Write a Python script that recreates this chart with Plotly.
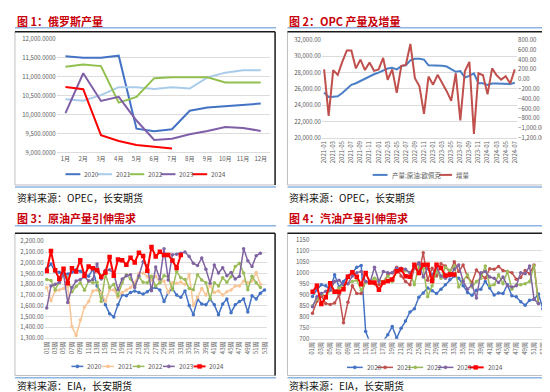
import plotly.graph_objects as go

W, H = 550, 392
def px(x): return x / W
def py(y): return 1 - y / H

# ---------------- data ----------------
# Chart 1: Russia production (kb/d), monthly
months1 = ["1月", "2月", "3月", "4月", "5月", "6月", "7月", "8月", "9月", "10月", "11月", "12月"]
years = ["2020", "2021", "2022", "2023", "2024"]
russia_2020 = [11543, 11509, 11509, 11560, 9630, 9561, 9612, 10104, 10190, 10224, 10259, 10293]
russia_2021 = [10405, 10370, 10517, 10728, 10724, 10681, 10724, 10690, 10983, 11112, 11172, 11172]
russia_2022 = [11267, 11328, 11285, 10319, 10470, 10966, 10991, 10991, 10991, 10853, 10853, 10853]
russia_2023 = [10040, 11095, 10362, 10470, 9845, 9328, 9362, 9483, 9569, 9673, 9647, 9569]
russia_2024 = [10733, 10672, 9457, 9302, 9199, 9155, 9104]

# Chart 2: OPEC production and monthly change
months2 = [f"{y}-{m:02d}" for y in (2021, 2022, 2023, 2024) for m in range(1, 13)][:43]
opec_prod = [25550, 25000, 25050, 25100, 25500, 26000, 26500, 26700, 27000, 27300,
             27500, 27800, 28000, 28300, 28500, 28600, 28400, 28800, 28900, 29500,
             29700, 29700, 29600, 28900, 28900, 28850, 28850, 28750, 28450, 28100,
             28200, 27400, 27600, 27900, 26700, 26700, 26500, 26650, 26650, 26650,
             26650, 26600, 26750]
opec_incr = [200, -750, 186, 88, 354, 588, 588, 220, 400, 186,
             340, 170, 200, 434, -12, 200, -280, 274, 290, 720,
             20, -146, -712, 54, -113, 88, -78, -246, -446, 120,
             -846, 160, 354, -1120, 120, 80, -312, 220, 80, -10,
             60, -90, 200]
opec_names = ["产量:原油:欧佩克", "增量"]

# Chart 3 / 4: weekly
weeks = [f"{i:02d}周" for i in range(1, 54)]
crude_2020 = [1948, 1988, 1921, 1912, 1891, 1897, 1912, 1936, 1921, 1900,
              1876, 1942, 1785, 1724, 1609, 1527, 1497, 1609, 1700, 1694,
              1724, 1739, 1724, 1709, 1730, 1761, 1770, 1748, 1639, 1724,
              1761, 1700, 1679, 1739, 1603, 1518, 1658, 1618, 1609, 1664,
              1609, 1518, 1618, 1664, 1536, 1609, 1639, 1664, 1542, 1694,
              1664, 1718, 1748]
crude_2021 = [1770, 1648, 1739, 1748, 1761, 1785, 1406, 1324, 1467, 1588,
              1639, 1739, 1748, 1724, 1639, 1748, 1748, 1679, 1724, 1748,
              1770, 1815, 1900, 1906, 1870, 1839, 1876, 1815, 1830, 1724,
              1815, 1809, 1821, 1800, 1891, 1603, 1679, 1761, 1700, 1791,
              1724, 1739, 1700, 1730, 1748, 1785, 1785, 1830, 1815, 1830,
              1910, 1800]
crude_2022 = [1845, 1836, 1750, 1815, 1890, 1860, 1730, 1780, 1815, 1745,
              1830, 1815, 1820, 1640, 1895, 1770, 1800, 1695, 1815, 1890,
              1850, 1785, 1870, 1820, 1815, 1875, 1785, 1815, 1880, 1870,
              1750, 1920, 1860, 1845, 1760, 1750, 1890, 1840, 1815, 1665,
              1815, 1785, 1860, 1820, 1870, 1965, 1995, 1905, 1750, 1875,
              1815, 1770]
crude_2023 = [1580, 1785, 1800, 1820, 1900, 1630, 1770, 1830, 1845, 1870,
              1830, 1845, 1990, 1850, 1930, 1935, 1900, 1750, 1850, 1880,
              1890, 1770, 1880, 2010, 1970, 1740, 1960, 1850, 2130, 1840,
              2075, 2080, 2090, 2100, 2060, 1995, 1975, 2045, 1940, 1810,
              1980, 1905, 1955, 1880, 1910, 1850, 1875, 2130, 2020, 1965,
              2065, 2090]
crude_2024 = [1924, 2109, 1930, 1850, 1945, 1810, 1950, 1920, 2025, 1880,
              1965, 1950, 1930, 1870, 1910, 2055, 1880, 2030, 2025, 1982,
              2048, 2003, 2094, 2064, 1927, 2148, 2058, 2103, 2073, 2073,
              2021, 1951, 2073]

gaso_2020 = [892, 922, 945, 940, 925, 990, 935, 960, 985, 1000,
             1025, 1032, 733, 680, 650, 660, 690, 718, 755, 703,
             747, 780, 821, 836, 888, 907, 930, 918, 905, 925,
             945, 968, 985, 975, 940, 910, 897, 920, 925, 960,
             930, 898, 908, 905, 945, 895, 890, 868, 852, 875,
             878, 903, 835]
gaso_2021 = [815, 870, 895, 860, 855, 862, 900, 772, 865, 940,
             905, 905, 960, 960, 950, 945, 958, 990, 1000, 1025,
             985, 960, 945, 1022, 1000, 1090, 965, 1020, 985, 1040,
             1030, 1000, 1050, 1005, 1035, 980, 955, 1012, 990, 975,
             1018, 1015, 1028, 1010, 1005, 1000, 970, 978, 1010, 995,
             1035, 860]
gaso_2022 = [850, 880, 905, 890, 920, 915, 930, 945, 950, 960,
             965, 920, 955, 960, 975, 965, 960, 985, 960, 1005,
             1010, 1010, 1000, 945, 1030, 1020, 890, 940, 1010, 975,
             1025, 1010, 1030, 935, 965, 990, 935, 960, 975, 1030,
             940, 945, 990, 950, 1005, 925, 945, 945, 950, 960,
             1030, 860]
gaso_2023 = [845, 890, 905, 915, 920, 960, 965, 945, 950, 985,
             1000, 1005, 960, 955, 1025, 960, 1005, 1000, 1000, 1020,
             1020, 1015, 1000, 1025, 1045, 980, 1020, 990, 1025, 985,
             975, 985, 1015, 1035, 960, 925, 945, 885, 1000, 1005,
             980, 975, 955, 980, 940, 935, 940, 1000, 995, 1030,
             880, 860]
gaso_2024 = [913, 940, 858, 888, 952, 913, 913, 925, 981, 1002,
             981, 947, 999, 955, 955, 922, 955, 962, 969, 1006,
             1014, 984, 981, 1036, 999, 1036, 1036, 962, 1036, 1021,
             987, 992, 992]

titles = ["图 1：俄罗斯产量", "图 2：OPC 产量及增量", "图 3：原油产量引伸需求", "图 4：汽油产量引伸需求"]
sources = ["资料来源：OPEC，长安期货", "资料来源：OPEC，长安期货", "资料来源：EIA，长安期货", "资料来源：EIA，长安期货"]

# ---------------- styles ----------------
FONT = "Noto Sans CJK SC, Noto Sans, sans-serif"
TICKC = "#595959"
GRID = "#DCDCDC"
TITLE_RED = "#C8000A"
SEP_BLUE = "#8EB4E3"
col1 = ["#4472C4", "#A9CBEA", "#92C04F", "#7F5FA8", "#FF0000"]
col3 = ["#4472C4", "#F9C596", "#9BBB59", "#8064A2", "#FF0000"]
col4 = ["#4472C4", "#C0504D", "#9BBB59", "#8064A2", "#FF0000"]

def idx(vals):
    return list(range(len(vals)))

fig = go.Figure()

# Chart 1
for name, vals, c in zip(years, [russia_2020, russia_2021, russia_2022, russia_2023, russia_2024], col1):
    fig.add_trace(go.Scatter(x=idx(vals), y=vals, mode="lines", name=name,
                             line=dict(color=c, width=2), xaxis="x", yaxis="y", showlegend=False))

# Chart 2
fig.add_trace(go.Scatter(x=idx(opec_prod), y=opec_prod, mode="lines", name=opec_names[0],
                         line=dict(color="#4A7EC6", width=2), xaxis="x2", yaxis="y2", showlegend=False))
fig.add_trace(go.Scatter(x=idx(opec_incr), y=opec_incr, mode="lines", name=opec_names[1],
                         line=dict(color="#C0504D", width=2), xaxis="x2", yaxis="y3", showlegend=False))

# Chart 3
for name, vals, c in zip(years, [crude_2020, crude_2021, crude_2022, crude_2023, crude_2024], col3):
    big = name == "2024"
    fig.add_trace(go.Scatter(x=idx(vals), y=vals, mode="lines+markers", name=name,
                             line=dict(color=c, width=2 if big else 1.5),
                             marker=dict(color=c, size=4.5 if big else 3.5, symbol="square" if big else "circle"),
                             xaxis="x3", yaxis="y4", showlegend=False))
# Chart 4
for name, vals, c in zip(years, [gaso_2020, gaso_2021, gaso_2022, gaso_2023, gaso_2024], col4):
    big = name == "2024"
    fig.add_trace(go.Scatter(x=idx(vals), y=vals, mode="lines+markers", name=name,
                             line=dict(color=c, width=2 if big else 1.5),
                             marker=dict(color=c, size=4.5 if big else 3.5, symbol="square" if big else "circle"),
                             xaxis="x4", yaxis="y5", showlegend=False))

tickf = dict(family=FONT, size=6, color=TICKC)

def xax(dom, anchor, cats, step, angle):
    n = len(cats)
    return dict(domain=[px(dom[0]), px(dom[1])], anchor=anchor, type="linear",
                range=[-0.5, n - 0.5], tickmode="array",
                tickvals=list(range(0, n, step)), ticktext=cats[::step],
                tickangle=angle, tickfont=tickf, showgrid=False, showline=True,
                linecolor=GRID, linewidth=1, ticks="", zeroline=False, fixedrange=True)

def yax(dom, anchor, rng, dtick, fmt, grid=True, side="left", overlay=None):
    d = dict(domain=[py(dom[1]), py(dom[0])], anchor=anchor, range=rng, dtick=dtick,
             tick0=rng[0], tickformat=fmt, tickfont=tickf, showgrid=grid, gridcolor=GRID,
             gridwidth=1, zeroline=False, showline=False, ticks="", side=side, fixedrange=True)
    if overlay:
        d["overlaying"] = overlay
        d.pop("domain")
    return d

layout = dict(
    width=W, height=H, margin=dict(l=0, r=0, t=0, b=0), autosize=False,
    paper_bgcolor="white", plot_bgcolor="white", showlegend=False,
    font=dict(family=FONT, color=TICKC),
    xaxis=xax((46, 261), "y", months1, 1, 0),
    yaxis=yax((26.7, 142.7), "x", [9000, 12000], 500, ",.4f"),
    xaxis2=xax((313.7, 510.7), "y2", months2, 2, -90),
    yaxis2=yax((27.7, 127.7), "x2", [20000, 32000], 2000, ",.2f"),
    yaxis3=yax((27.7, 127.7), "x2", [-1200, 800], 200, ",.2f", grid=False, side="right", overlay="y2"),
    xaxis3=xax((34, 258), "y4", weeks, 2, -90),
    yaxis4=yax((233.7, 332.7), "x3", [1300, 2200], 100, ",.2f"),
    xaxis4=xax((302, 539), "y5", weeks, 2, -90),
    yaxis5=yax((232, 333.3), "x4", [700, 1150], 50, "d"),
)
fig.update_layout(**layout)

shapes = []
annots = []

def hline(x0, x1, y, color, width):
    shapes.append(dict(type="line", xref="paper", yref="paper", x0=px(x0), x1=px(x1),
                       y0=py(y), y1=py(y), line=dict(color=color, width=width)))

def vline(x, y0, y1, color, width):
    shapes.append(dict(type="line", xref="paper", yref="paper", x0=px(x), x1=px(x),
                       y0=py(y0), y1=py(y1), line=dict(color=color, width=width)))

def text(x, y, s, size, color, xanchor="left", bold=False):
    annots.append(dict(xref="paper", yref="paper", x=px(x), y=py(y), text=(f"<b>{s}</b>" if bold else s),
                       showarrow=False, xanchor=xanchor, yanchor="middle",
                       font=dict(family=FONT, size=size, color=color)))

# panel frames: (left, right, title_y, sep_y, top, bottom, bottom_sep, source_y)
panels = [
    (4, 266.5, 8, 15, 19.3, 176, 178.2, 188.5),
    (279, 546.5, 8, 15, 19.3, 176, 178.2, 188.5),
    (4, 266.5, 209.5, 217.7, 225.5, 371, 373.2, 381.5),
    (279, 546.5, 209.5, 217.7, 225.5, 371, 373.2, 381.5),
]
for (l, r, ty, sy, top, bot, bsep, srcy), t, s in zip(panels, titles, sources):
    text(l, ty, t, 11, TITLE_RED, bold=True)
    hline(l, r + 1, sy, SEP_BLUE, 1.5)
    vline(l, top, bot, "#BFBFBF", 1)
    hline(l, r, bot, "#BFBFBF", 1)
    hline(l, r, top, "#1A1A1A", 1.5)
    vline(r, top, bot, "#1A1A1A", 1.5)
    hline(l, r + 1, bsep, SEP_BLUE, 1.5)
    text(l, srcy, s, 10, "#111111")

# legends
def legend_items(txs, y, colors, names, llen, marker=False):
    for tx, c, n in zip(txs, colors, names):
        w = 2 if (n == "2024" or not marker) else 1.5
        hline(tx - llen - 2, tx - 2, y, c, w)
        if marker:
            cx = tx - 2 - llen / 2
            rr = 2.0 if n == "2024" else 1.6
            shapes.append(dict(type="rect" if n == "2024" else "circle", xref="paper", yref="paper",
                               x0=px(cx - rr), x1=px(cx + rr), y0=py(y + rr), y1=py(y - rr),
                               fillcolor=c, line=dict(color=c, width=0.5)))
        text(tx, y, n, 6.5, TICKC)

legend_items([72, 104, 136.5, 168, 200], 165, col1, years, 15)
# chart 2 legend
hline(365, 380, 165.7, "#4A7EC6", 2)
text(382, 165.7, opec_names[0], 6.5, TICKC)
hline(432, 445, 165.7, "#C0504D", 2)
text(447, 165.7, opec_names[1], 6.5, TICKC)
legend_items([75, 106, 136.7, 167.3, 198.3], 361.7, col3, years, 12, marker=True)
legend_items([357, 387.5, 418, 448.5, 479], 362.7, col4, years, 16, marker=True)

fig.update_layout(shapes=shapes, annotations=annots)
fig.write_html("out.html")
